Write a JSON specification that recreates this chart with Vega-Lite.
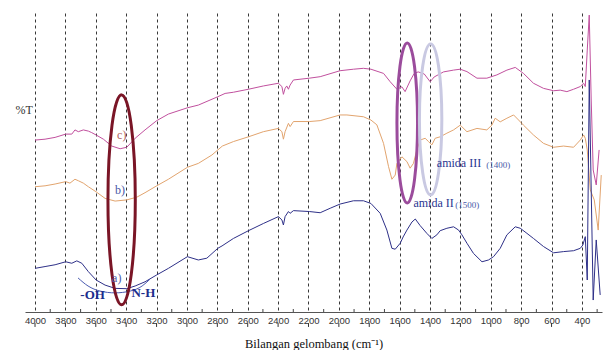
{
  "$schema": "https://vega.github.io/schema/vega-lite/v6.json",
  "width": 577,
  "height": 299,
  "autosize": {"type": "none"},
  "padding": {"left": 25, "top": 13, "right": 3, "bottom": 38},
  "background": "white",
  "config": {"view": {"stroke": null}, "axis": {"labelOverlap": false, "labelSeparation": 0, "labelBound": false}},
  "datasets": {
    "spectra": [
      {"s":"c","wn":4000,"T":57.5},{"s":"c","wn":3934,"T":57.8},{"s":"c","wn":3868,"T":58.4},{"s":"c","wn":3798,"T":59.5},{"s":"c","wn":3758,"T":59.5},{"s":"c","wn":3737,"T":60.9},{"s":"c","wn":3715,"T":60.3},{"s":"c","wn":3682,"T":60.9},{"s":"c","wn":3649,"T":60.5},{"s":"c","wn":3627,"T":60.0},{"s":"c","wn":3598,"T":59.2},{"s":"c","wn":3550,"T":57.8},{"s":"c","wn":3495,"T":55.5},{"s":"c","wn":3440,"T":54.6},{"s":"c","wn":3396,"T":55.1},{"s":"c","wn":3341,"T":58.1},{"s":"c","wn":3276,"T":60.9},{"s":"c","wn":3199,"T":64.0},{"s":"c","wn":3122,"T":66.2},{"s":"c","wn":2997,"T":68.3},{"s":"c","wn":2925,"T":69.2},{"s":"c","wn":2797,"T":72.0},{"s":"c","wn":2749,"T":73.1},{"s":"c","wn":2694,"T":73.5},{"s":"c","wn":2595,"T":74.5},{"s":"c","wn":2497,"T":75.6},{"s":"c","wn":2398,"T":76.5},{"s":"c","wn":2375,"T":75.4},{"s":"c","wn":2365,"T":72.8},{"s":"c","wn":2354,"T":74.8},{"s":"c","wn":2343,"T":75.6},{"s":"c","wn":2332,"T":74.5},{"s":"c","wn":2321,"T":75.9},{"s":"c","wn":2299,"T":77.6},{"s":"c","wn":2194,"T":78.2},{"s":"c","wn":2123,"T":78.7},{"s":"c","wn":1992,"T":80.7},{"s":"c","wn":1904,"T":81.2},{"s":"c","wn":1838,"T":81.5},{"s":"c","wn":1789,"T":81.2},{"s":"c","wn":1706,"T":79.8},{"s":"c","wn":1662,"T":77.0},{"s":"c","wn":1618,"T":74.5},{"s":"c","wn":1585,"T":75.3},{"s":"c","wn":1564,"T":73.7},{"s":"c","wn":1531,"T":77.3},{"s":"c","wn":1504,"T":79.8},{"s":"c","wn":1478,"T":80.3},{"s":"c","wn":1438,"T":79.6},{"s":"c","wn":1399,"T":77.0},{"s":"c","wn":1373,"T":78.6},{"s":"c","wn":1311,"T":80.3},{"s":"c","wn":1245,"T":80.9},{"s":"c","wn":1201,"T":81.2},{"s":"c","wn":1157,"T":80.4},{"s":"c","wn":1091,"T":78.2},{"s":"c","wn":1026,"T":78.2},{"s":"c","wn":960,"T":79.3},{"s":"c","wn":894,"T":80.9},{"s":"c","wn":839,"T":81.8},{"s":"c","wn":785,"T":79.8},{"s":"c","wn":719,"T":76.5},{"s":"c","wn":653,"T":74.8},{"s":"c","wn":587,"T":74.0},{"s":"c","wn":543,"T":74.2},{"s":"c","wn":499,"T":73.7},{"s":"c","wn":455,"T":74.5},{"s":"c","wn":411,"T":75.4},{"s":"c","wn":389,"T":76.5},{"s":"c","wn":378,"T":75.4},{"s":"c","wn":365,"T":87.6},{"s":"c","wn":352,"T":99.3},{"s":"c","wn":339,"T":70.9},{"s":"c","wn":326,"T":47.5},{"s":"c","wn":306,"T":42.5},{"s":"c","wn":287,"T":54.2},
      {"s":"b","wn":4000,"T":41.9},{"s":"b","wn":3934,"T":42.2},{"s":"b","wn":3868,"T":42.8},{"s":"b","wn":3798,"T":43.6},{"s":"b","wn":3770,"T":43.1},{"s":"b","wn":3737,"T":44.4},{"s":"b","wn":3715,"T":43.9},{"s":"b","wn":3682,"T":43.1},{"s":"b","wn":3649,"T":41.9},{"s":"b","wn":3598,"T":40.2},{"s":"b","wn":3539,"T":38.0},{"s":"b","wn":3473,"T":37.1},{"s":"b","wn":3396,"T":37.5},{"s":"b","wn":3330,"T":38.4},{"s":"b","wn":3276,"T":39.9},{"s":"b","wn":3199,"T":42.2},{"s":"b","wn":3122,"T":44.4},{"s":"b","wn":2997,"T":48.4},{"s":"b","wn":2925,"T":49.7},{"s":"b","wn":2836,"T":52.5},{"s":"b","wn":2767,"T":55.5},{"s":"b","wn":2694,"T":57.0},{"s":"b","wn":2595,"T":58.6},{"s":"b","wn":2497,"T":60.3},{"s":"b","wn":2398,"T":61.4},{"s":"b","wn":2375,"T":60.3},{"s":"b","wn":2365,"T":57.8},{"s":"b","wn":2354,"T":60.3},{"s":"b","wn":2332,"T":63.1},{"s":"b","wn":2321,"T":62.0},{"s":"b","wn":2299,"T":63.7},{"s":"b","wn":2194,"T":63.7},{"s":"b","wn":2123,"T":64.0},{"s":"b","wn":1992,"T":65.9},{"s":"b","wn":1947,"T":65.9},{"s":"b","wn":1838,"T":65.3},{"s":"b","wn":1789,"T":64.2},{"s":"b","wn":1750,"T":62.6},{"s":"b","wn":1706,"T":56.4},{"s":"b","wn":1673,"T":48.6},{"s":"b","wn":1651,"T":44.4},{"s":"b","wn":1629,"T":45.8},{"s":"b","wn":1618,"T":49.7},{"s":"b","wn":1585,"T":51.9},{"s":"b","wn":1552,"T":50.3},{"s":"b","wn":1531,"T":48.1},{"s":"b","wn":1509,"T":49.7},{"s":"b","wn":1487,"T":54.2},{"s":"b","wn":1465,"T":57.5},{"s":"b","wn":1432,"T":58.1},{"s":"b","wn":1410,"T":57.0},{"s":"b","wn":1388,"T":55.9},{"s":"b","wn":1366,"T":58.1},{"s":"b","wn":1333,"T":58.6},{"s":"b","wn":1289,"T":59.8},{"s":"b","wn":1245,"T":60.9},{"s":"b","wn":1201,"T":62.5},{"s":"b","wn":1157,"T":60.3},{"s":"b","wn":1091,"T":61.4},{"s":"b","wn":1026,"T":60.9},{"s":"b","wn":993,"T":62.5},{"s":"b","wn":971,"T":64.8},{"s":"b","wn":938,"T":63.6},{"s":"b","wn":894,"T":64.8},{"s":"b","wn":850,"T":65.9},{"s":"b","wn":817,"T":64.2},{"s":"b","wn":785,"T":62.5},{"s":"b","wn":719,"T":59.2},{"s":"b","wn":653,"T":56.4},{"s":"b","wn":587,"T":55.1},{"s":"b","wn":521,"T":55.5},{"s":"b","wn":455,"T":55.1},{"s":"b","wn":411,"T":57.5},{"s":"b","wn":389,"T":59.2},{"s":"b","wn":378,"T":58.1},{"s":"b","wn":365,"T":54.2},{"s":"b","wn":345,"T":40.8},{"s":"b","wn":319,"T":37.5},{"s":"b","wn":293,"T":27.4},{"s":"b","wn":273,"T":45.8},
      {"s":"a","wn":4000,"T":14.6},{"s":"a","wn":3934,"T":15.2},{"s":"a","wn":3868,"T":15.8},{"s":"a","wn":3798,"T":16.8},{"s":"a","wn":3758,"T":16.3},{"s":"a","wn":3725,"T":17.1},{"s":"a","wn":3692,"T":16.3},{"s":"a","wn":3649,"T":13.5},{"s":"a","wn":3598,"T":10.7},{"s":"a","wn":3539,"T":9.0},{"s":"a","wn":3473,"T":7.9},{"s":"a","wn":3396,"T":7.8},{"s":"a","wn":3341,"T":8.7},{"s":"a","wn":3276,"T":10.1},{"s":"a","wn":3199,"T":12.4},{"s":"a","wn":3122,"T":14.6},{"s":"a","wn":2997,"T":18.5},{"s":"a","wn":2925,"T":17.4},{"s":"a","wn":2869,"T":18.0},{"s":"a","wn":2797,"T":21.3},{"s":"a","wn":2769,"T":22.1},{"s":"a","wn":2694,"T":24.6},{"s":"a","wn":2595,"T":27.2},{"s":"a","wn":2497,"T":29.6},{"s":"a","wn":2398,"T":31.9},{"s":"a","wn":2375,"T":30.8},{"s":"a","wn":2365,"T":29.1},{"s":"a","wn":2354,"T":31.9},{"s":"a","wn":2332,"T":33.6},{"s":"a","wn":2321,"T":33.0},{"s":"a","wn":2299,"T":33.9},{"s":"a","wn":2194,"T":33.6},{"s":"a","wn":2123,"T":33.2},{"s":"a","wn":2057,"T":34.7},{"s":"a","wn":1992,"T":36.1},{"s":"a","wn":1904,"T":37.2},{"s":"a","wn":1838,"T":37.2},{"s":"a","wn":1789,"T":36.3},{"s":"a","wn":1728,"T":33.0},{"s":"a","wn":1684,"T":27.4},{"s":"a","wn":1651,"T":21.3},{"s":"a","wn":1629,"T":21.0},{"s":"a","wn":1596,"T":23.0},{"s":"a","wn":1577,"T":25.1},{"s":"a","wn":1552,"T":27.4},{"s":"a","wn":1519,"T":30.1},{"s":"a","wn":1497,"T":31.1},{"s":"a","wn":1465,"T":28.9},{"s":"a","wn":1421,"T":26.3},{"s":"a","wn":1388,"T":24.6},{"s":"a","wn":1355,"T":25.8},{"s":"a","wn":1333,"T":27.2},{"s":"a","wn":1289,"T":28.0},{"s":"a","wn":1245,"T":28.5},{"s":"a","wn":1212,"T":27.4},{"s":"a","wn":1190,"T":25.8},{"s":"a","wn":1157,"T":23.0},{"s":"a","wn":1114,"T":19.6},{"s":"a","wn":1058,"T":16.8},{"s":"a","wn":1015,"T":17.4},{"s":"a","wn":982,"T":18.5},{"s":"a","wn":938,"T":21.3},{"s":"a","wn":894,"T":25.8},{"s":"a","wn":839,"T":28.5},{"s":"a","wn":806,"T":28.0},{"s":"a","wn":762,"T":26.3},{"s":"a","wn":719,"T":24.6},{"s":"a","wn":653,"T":21.9},{"s":"a","wn":587,"T":19.8},{"s":"a","wn":521,"T":20.2},{"s":"a","wn":455,"T":20.5},{"s":"a","wn":411,"T":21.3},{"s":"a","wn":394,"T":22.4},{"s":"a","wn":378,"T":25.2},{"s":"a","wn":365,"T":10.7},{"s":"a","wn":352,"T":77.6},{"s":"a","wn":326,"T":4.0},{"s":"a","wn":306,"T":24.1},{"s":"a","wn":280,"T":5.7}
    ]
  },
  "layer": [
    {
      "data": {"name": "spectra"},
      "mark": {"type": "line", "strokeWidth": 1, "clip": false},
      "encoding": {
        "x": {
          "field": "wn", "type": "quantitative",
          "scale": {"domain": [268, 4066], "reverse": true, "nice": false, "zero": false},
          "axis": {
            "values": [4000,3800,3600,3400,3200,3000,2800,2600,2400,2200,2000,1800,1600,1400,1200,1000,800,600,400],
            "tickCount": 40,
            "format": "d",
            "labelOverlap": false,
            "labelSeparation": 0,
            "grid": true, "gridDash": [3, 3], "gridColor": "#222", "gridWidth": 1, "gridOpacity": 0.9,
            "domainColor": "#555", "domainWidth": 1,
            "ticks": false,
            "labelFont": "Liberation Sans", "labelFontSize": 9.5, "labelColor": "#333", "labelPadding": 3,
            "title": "Bilangan gelombang (cm⁻¹)",
            "titleFont": "Liberation Serif", "titleFontSize": 12.5, "titleFontWeight": "normal", "titleColor": "#111", "titlePadding": 13
          }
        },
        "y": {"field": "T", "type": "quantitative", "scale": {"domain": [0, 100], "nice": false, "zero": false}, "axis": null},
        "color": {"field": "s", "type": "nominal", "scale": {"domain": ["a", "b", "c"], "range": ["#2e3088", "#e2a46e", "#c1509e"]}, "legend": null}
      }
    },
    {
      "data": {"values": [{"wn":3900},{"wn":3700},{"wn":3500},{"wn":3300},{"wn":3100},{"wn":2900},{"wn":2700},{"wn":2500},{"wn":2300},{"wn":2100},{"wn":1900},{"wn":1700},{"wn":1500},{"wn":1300},{"wn":1100},{"wn":900},{"wn":700},{"wn":500},{"wn":300}]},
      "mark": {"type": "rule", "color": "#444", "strokeWidth": 1},
      "encoding": {"x": {"field": "wn", "type": "quantitative"}, "y": {"datum": 0}, "y2": {"datum": 1}}
    },
    {
      "data": {"values": [{"wn":4000},{"wn":3800},{"wn":3600},{"wn":3400},{"wn":3200},{"wn":3000},{"wn":2800},{"wn":2600},{"wn":2400},{"wn":2200},{"wn":2000},{"wn":1800},{"wn":1600},{"wn":1400},{"wn":1200},{"wn":1000},{"wn":800},{"wn":600},{"wn":400}]},
      "mark": {"type": "rule", "color": "#333", "strokeWidth": 1},
      "encoding": {"x": {"field": "wn", "type": "quantitative"}, "y": {"datum": -3.7}, "y2": {"datum": -5}}
    },
    {
      "data": {"values": [{"wn":3717,"T":11.4},{"wn":3651,"T":8.7},{"wn":3572,"T":7.0},{"wn":3473,"T":6.4},{"wn":3374,"T":7.0},{"wn":3295,"T":8.7},{"wn":3243,"T":11.0}]},
      "mark": {"type": "line", "color": "#4a5ab0", "strokeWidth": 1, "interpolate": "monotone"},
      "encoding": {"x": {"field": "wn", "type": "quantitative"}, "y": {"field": "T", "type": "quantitative"}}
    },
    {
      "data": {"values": [{"wn": 3430, "T": 37.5}]},
      "mark": {"type": "point", "filled": false, "stroke": "#7a1526", "strokeWidth": 3, "opacity": 1, "size": 44100,
        "shape": "M0,-1C0.0719,-1 0.1302,-0.5523 0.1302,0C0.1302,0.5523 0.0719,1 0,1C-0.0719,1 -0.1302,0.5523 -0.1302,0C-0.1302,-0.5523 -0.0719,-1 0,-1Z"},
      "encoding": {"x": {"field": "wn", "type": "quantitative"}, "y": {"field": "T", "type": "quantitative"}}
    },
    {
      "data": {"values": [{"wn": 1550, "T": 63.2}]},
      "mark": {"type": "point", "filled": false, "stroke": "#9b4c9c", "strokeWidth": 3, "opacity": 1, "size": 25600,
        "shape": "M0,-1C0.0711,-1 0.1288,-0.5523 0.1288,0C0.1288,0.5523 0.0711,1 0,1C-0.0711,1 -0.1288,0.5523 -0.1288,0C-0.1288,-0.5523 -0.0711,-1 0,-1Z"},
      "encoding": {"x": {"field": "wn", "type": "quantitative"}, "y": {"field": "T", "type": "quantitative"}}
    },
    {
      "data": {"values": [{"wn": 1396, "T": 64.4}]},
      "mark": {"type": "point", "filled": false, "stroke": "#c9c9e2", "strokeWidth": 3, "opacity": 1, "size": 22801,
        "shape": "M0,-1C0.0819,-1 0.1483,-0.5523 0.1483,0C0.1483,0.5523 0.0819,1 0,1C-0.0819,1 -0.1483,0.5523 -0.1483,0C-0.1483,-0.5523 -0.0819,-1 0,-1Z"},
      "encoding": {"x": {"field": "wn", "type": "quantitative"}, "y": {"field": "T", "type": "quantitative"}}
    },
    {
      "data": {"values": [{"wn": 4072, "T": 67.6, "label": "%T"}]},
      "mark": {"type": "text", "font": "Liberation Serif", "fontSize": 12, "color": "#333", "align": "center", "baseline": "middle"},
      "encoding": {"x": {"field": "wn", "type": "quantitative"}, "y": {"field": "T", "type": "quantitative"}, "text": {"field": "label"}}
    },
    {
      "data": {"values": [{"wn": 3429, "T": 59.2, "label": "c)"}]},
      "mark": {"type": "text", "font": "Liberation Serif", "fontSize": 12, "color": "#b0605a", "align": "center", "baseline": "middle"},
      "encoding": {"x": {"field": "wn", "type": "quantitative"}, "y": {"field": "T", "type": "quantitative"}, "text": {"field": "label"}}
    },
    {
      "data": {"values": [{"wn": 3440, "T": 40.8, "label": "b)"}, {"wn": 3462, "T": 11.4, "label": "a)"}]},
      "mark": {"type": "text", "font": "Liberation Serif", "fontSize": 12, "color": "#4a58a8", "align": "center", "baseline": "middle"},
      "encoding": {"x": {"field": "wn", "type": "quantitative"}, "y": {"field": "T", "type": "quantitative"}, "text": {"field": "label"}}
    },
    {
      "data": {"values": [{"wn": 3621, "T": 5.7, "label": "-OH"}, {"wn": 3287, "T": 6.4, "label": "N-H"}]},
      "mark": {"type": "text", "font": "Liberation Serif", "fontSize": 13, "fontWeight": "bold", "color": "#1c2d8c", "align": "center", "baseline": "middle"},
      "encoding": {"x": {"field": "wn", "type": "quantitative"}, "y": {"field": "T", "type": "quantitative"}, "text": {"field": "label"}}
    },
    {
      "data": {"values": [{"wn": 1355, "T": 49.7, "label": "amida III"}, {"wn": 1509, "T": 36.4, "label": "amida II"}]},
      "mark": {"type": "text", "font": "Liberation Serif", "fontSize": 12, "color": "#2a3590", "align": "left", "baseline": "middle"},
      "encoding": {"x": {"field": "wn", "type": "quantitative"}, "y": {"field": "T", "type": "quantitative"}, "text": {"field": "label"}}
    },
    {
      "data": {"values": [{"wn": 1030, "T": 49.2, "label": "(1400)"}, {"wn": 1234, "T": 35.8, "label": "(1500)"}]},
      "mark": {"type": "text", "font": "Liberation Serif", "fontSize": 9, "color": "#4a5aa8", "align": "left", "baseline": "middle"},
      "encoding": {"x": {"field": "wn", "type": "quantitative"}, "y": {"field": "T", "type": "quantitative"}, "text": {"field": "label"}}
    }
  ]
}
